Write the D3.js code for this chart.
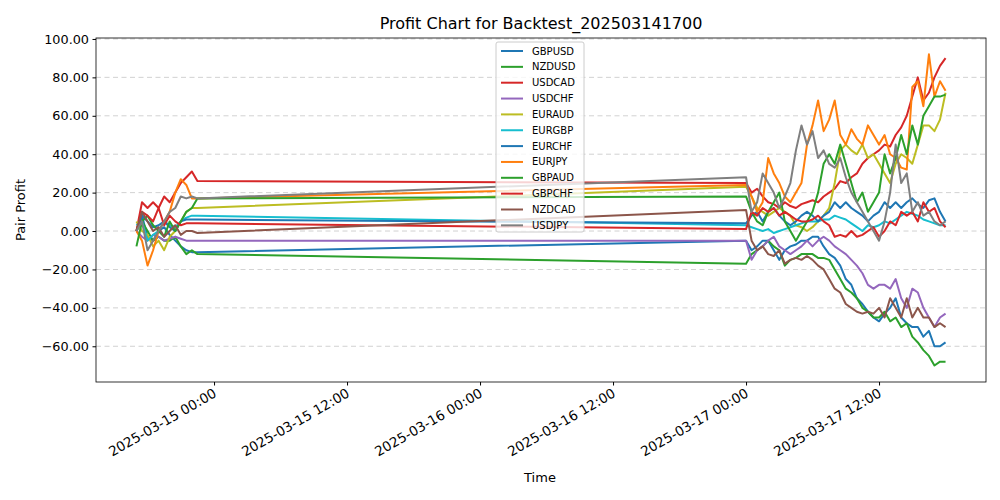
<!DOCTYPE html>
<html><head><meta charset="utf-8">
<script src="https://cdn.jsdelivr.net/npm/d3@7"></script>
<style>body{margin:0;background:#fff}text{font-family:"DejaVu Sans",sans-serif}</style>
</head><body><svg id="c" width="1000" height="500"></svg>
<script>
// timestamps: segment 1 (03-14 17:00..22:30) and segment 2 (03-17 00:00..18:00), 30-min steps
const seg1Start = "2025-03-14T17:00:00", seg1Count = 12;
const seg2Start = "2025-03-17T00:00:00", seg2Count = 37;
const pairs = ["GBPUSD","NZDUSD","USDCAD","USDCHF","EURAUD","EURGBP","EURCHF","EURJPY","GBPAUD","GBPCHF","NZDCAD","USDJPY"];
const colors = ["#1f77b4","#2ca02c","#d62728","#9467bd","#bcbd22","#17becf","#1f77b4","#ff7f0e","#2ca02c","#d62728","#8c564b","#7f7f7f"];
const GBPUSD = [0,8,-3,-5,0,2,-2,-5,-8,-10,-11,-11,
 -5,-10,-8,-5,-5,-10,-15,-10,-8,-7,-5,-5,-3,-3,-8,-12,-14,-18,-25,-28,-35,-38,-42,-45,-47,-43,-40,-35,-45,-48,-50,-50,-55,-52,-60,-60,-58];
const NZDUSD = [0,5,0,-5,-3,-5,-5,-3,-8,-12,-10,-12,
 -17,-12,-10,-8,-5,-8,-10,-18,-15,-14,-12,-12,-12,-14,-14,-15,-20,-25,-30,-32,-35,-40,-42,-45,-45,-42,-47,-45,-50,-48,-55,-58,-62,-65,-70,-68,-68];
const USDCAD = [0,15,12,15,12,18,15,20,25,28,31,26,
 25,20,22,18,15,14,12,15,13,12,14,15,16,15,18,20,22,26,25,28,30,35,38,40,42,45,44,50,54,60,70,80,68,72,80,86,90];
const USDCHF = [0,-3,-5,-2,-3,-5,-4,-3,-4,-5,-5,-5,
 -5,-15,-10,-8,-5,-3,-8,-10,-12,-10,-8,-5,-8,-5,-3,-5,-8,-10,-12,-15,-18,-22,-28,-30,-28,-28,-30,-25,-35,-40,-30,-32,-40,-45,-50,-45,-43];
const EURAUD = [5,0,-2,-8,-5,-10,-3,0,5,10,12,12,
 23,18,12,10,8,10,12,10,8,3,2,0,2,5,8,12,25,42,45,42,40,45,38,40,35,30,25,35,40,38,35,45,55,55,52,58,72];
const EURGBP = [3,5,-5,-2,0,5,3,2,5,7,8,8,
 3,2,1,0,1,-1,0,1,2,3,4,5,5,5,6,6,8,7,6,4,2,0,3,2,3,5,4,6,8,10,9,8,6,5,4,3,3];
const EURCHF = [0,8,5,2,3,5,2,0,5,6,6,6,
 4,8,10,5,10,12,8,5,3,5,8,10,8,5,8,10,15,12,15,12,10,8,5,8,10,15,12,15,12,15,17,14,12,16,17,10,5];
const EURJPY = [0,-5,-18,-10,0,5,10,20,27,24,17,17,
 24,18,10,15,38,30,25,18,15,20,25,45,55,68,52,58,68,50,45,53,48,45,55,50,45,50,40,38,33,32,75,78,65,92,70,78,73];
const GBPAUD = [-8,5,8,3,0,-3,5,0,5,10,12,17,
 18,10,5,3,10,15,20,5,0,-5,0,5,10,20,35,40,35,45,35,25,15,20,10,15,20,40,30,38,50,40,55,45,60,65,70,70,71];
const GBPCHF = [0,10,8,5,12,3,8,5,3,4,4,4,
 1,10,8,12,10,12,8,10,8,6,5,5,6,8,5,3,-3,-2,-3,0,-3,-2,0,2,-3,0,5,3,10,8,10,5,15,10,12,5,2];
const NZDCAD = [0,10,5,0,2,-3,0,3,-2,0,0,-1,
 11,-5,-10,-8,-12,-13,-10,-17,-15,-14,-15,-13,-15,-18,-20,-25,-30,-32,-38,-40,-42,-43,-42,-43,-40,-45,-35,-40,-45,-35,-45,-40,-45,-45,-50,-48,-50];
const USDJPY = [0,5,-10,-5,0,5,10,12,18,17,18,17,
 28,10,15,30,25,20,12,18,25,42,55,45,52,38,42,35,33,38,28,20,15,10,5,0,-5,5,20,45,25,30,10,15,8,10,5,3,5];
const series = [GBPUSD,NZDUSD,USDCAD,USDCHF,EURAUD,EURGBP,EURCHF,EURJPY,GBPAUD,GBPCHF,NZDCAD,USDJPY];
const yTicks = [-60,-40,-20,0,20,40,60,80,100];
const xTickLabels = ["2025-03-15 00:00","2025-03-15 12:00","2025-03-16 00:00","2025-03-16 12:00","2025-03-17 00:00","2025-03-17 12:00"];

const parse = d3.timeParse("%Y-%m-%dT%H:%M:%S");
const times = [];
for (let i=0;i<seg1Count;i++) times.push(new Date(parse(seg1Start).getTime()+i*1800000));
for (let i=0;i<seg2Count;i++) times.push(new Date(parse(seg2Start).getTime()+i*1800000));

const svg = d3.select("#c");
const L=96,R=986,T=38,B=382;
const t0=times[0], t1=times[times.length-1], pad=(t1-t0)*0.05;
const x = d3.scaleTime().domain([new Date(+t0-pad), new Date(+t1+pad)]).range([L,R]);
const y = d3.scaleLinear().domain([-78.6,100.5]).range([B,T]);

const g = svg.append("g");
yTicks.forEach(v=>g.append("line").attr("x1",L).attr("x2",R).attr("y1",y(v)).attr("y2",y(v))
  .attr("stroke","#b0b0b0").attr("stroke-dasharray","5,3.5").attr("stroke-width",0.8).attr("opacity",0.7));

const line = d3.line().x((d,i)=>x(times[i])).y(d=>y(d));
series.forEach((s,k)=>g.append("path").attr("d",line(s)).attr("fill","none").attr("stroke",colors[k]).attr("stroke-width",2).attr("stroke-linejoin","round"));

g.append("rect").attr("x",L).attr("y",T).attr("width",R-L).attr("height",B-T).attr("fill","none").attr("stroke","#000").attr("stroke-width",0.8);

const yAx = svg.append("g").attr("transform",`translate(${L},0)`).call(d3.axisLeft(y).tickValues(yTicks).tickFormat(d3.format(".2f")).tickSize(3.5).tickPadding(3.5));
yAx.select(".domain").remove();
yAx.selectAll("text").attr("font-size",12.8).attr("font-family","DejaVu Sans");
const fmt = d3.timeParse("%Y-%m-%d %H:%M");
const xAx = svg.append("g").attr("transform",`translate(0,${B})`).call(d3.axisBottom(x).tickValues(xTickLabels.map(s=>fmt(s))).tickFormat((d,i)=>xTickLabels[i]).tickSize(3.5));
xAx.select(".domain").remove();
xAx.selectAll("text").attr("font-size",13.5).attr("font-family","DejaVu Sans")
  .attr("text-anchor","end").attr("y",0).attr("dy","0").attr("transform","translate(3,14) rotate(-30)");

svg.append("text").attr("x",541).attr("y",29).attr("text-anchor","middle").attr("font-size",16).text("Profit Chart for Backtest_202503141700");
svg.append("text").attr("x",540).attr("y",482).attr("text-anchor","middle").attr("font-size",13).text("Time");
svg.append("text").attr("transform","translate(25,210) rotate(-90)").attr("text-anchor","middle").attr("font-size",13).text("Pair Profit");

const lg = svg.append("g").attr("transform","translate(496,42)");
lg.append("rect").attr("width",88).attr("height",190).attr("rx",2).attr("fill","#fff").attr("fill-opacity",0.8).attr("stroke","#ccc");
pairs.forEach((p,i)=>{
  const yy = 9+i*15.85;
  lg.append("line").attr("x1",5).attr("x2",27).attr("y1",yy).attr("y2",yy).attr("stroke",colors[i]).attr("stroke-width",2);
  lg.append("text").attr("x",36).attr("y",yy+3.5).attr("font-size",10).text(p);
});
</script></body></html>
